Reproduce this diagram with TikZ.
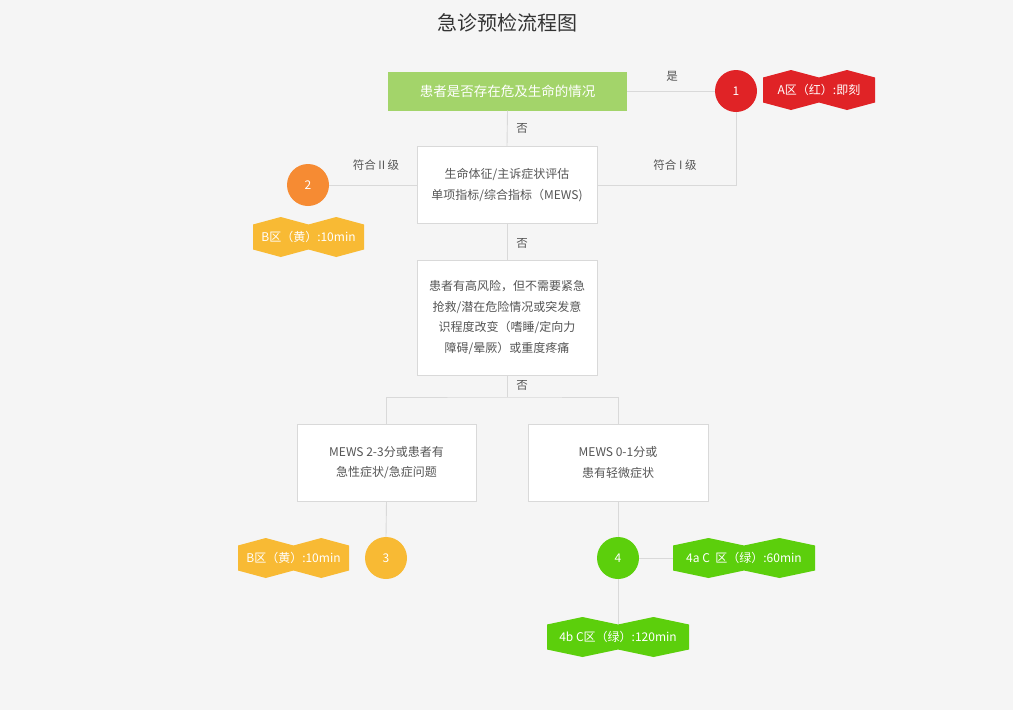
\documentclass[tikz,border=0pt]{standalone}
\usepackage{fontspec}
\setmainfont{Noto Sans CJK SC}
\usetikzlibrary{calc}
\definecolor{bgc}{HTML}{F5F5F5}
\definecolor{linec}{HTML}{D9D9D9}
\definecolor{txtc}{HTML}{555555}
\definecolor{titlec}{HTML}{333333}
\definecolor{qgreen}{HTML}{A3D46A}
\definecolor{cred}{HTML}{E02326}
\definecolor{corange}{HTML}{F68B33}
\definecolor{cyellow}{HTML}{F8BA34}
\definecolor{cgreen}{HTML}{5CCF0C}
\tikzset{
  box/.style={draw=linec, line width=0.8pt, fill=white, align=center, text=txtc, inner sep=0pt,
    font=\fontsize{12}{20.8}\selectfont},
  qbox/.style={fill=qgreen, text=white, inner sep=0pt, minimum width=239pt, minimum height=39pt,
    font=\fontsize{13.5}{16}\selectfont},
  circ/.style={circle, inner sep=0pt, minimum size=42pt, text=white, font=\fontsize{12}{14}\selectfont},
  bantext/.style={inner sep=0pt, minimum height=25pt, text=white, font=\fontsize{12}{14}\selectfont},
  lbl/.style={text=txtc, font=\fontsize{11.5}{14}\selectfont, inner sep=0pt},
  conn/.style={draw=linec, line width=0.9pt},
}
\newcommand\banner[6]{%
  \fill[#5] ({#2-#4},{#3-12.5}) -- ({#2-#4/2},{#3-20}) -- (#2,{#3-12.5}) -- ({#2+#4/2},{#3-20}) -- ({#2+#4},{#3-12.5})
    -- ({#2+#4},{#3+12.5}) -- ({#2+#4/2},{#3+20}) -- (#2,{#3+12.5}) -- ({#2-#4/2},{#3+20}) -- ({#2-#4},{#3+12.5}) -- cycle;
  \node[bantext, minimum width={(2*#4)*1pt}] (#1) at (#2,#3) {#6};}
\begin{document}
\begin{tikzpicture}[x=1pt,y=-1pt]
\useasboundingbox (0,0) rectangle (1013,710);
\fill[bgc] (0,0) rectangle (1013,710);

\node[text=titlec, font=\fontsize{20}{24}\selectfont] (title) at (507,23) {急诊预检流程图};

% boxes
\node[qbox] (q1) at (507.5,91) {患者是否存在危及生命的情况};
\node[box, minimum width=180pt, minimum height=77pt] (b2) at (507,185) {生命体征/主诉症状评估\\单项指标/综合指标（MEWS)};
\node[box, minimum width=180pt, minimum height=115pt] (b3) at (507,317.5) {患者有高风险，但不需要紧急\\抢救/潜在危险情况或突发意\\识程度改变（嗜睡/定向力\\障碍/晕厥）或重度疼痛};
\node[box, minimum width=179pt, minimum height=77pt] (b4) at (386.5,462.5) {MEWS 2-3分或患者有\\急性症状/急症问题};
\node[box, minimum width=180pt, minimum height=77pt] (b5) at (618,462.5) {MEWS 0-1分或\\患有轻微症状};

% circles
\node[circ, fill=cred] (c1) at (736,91) {1};
\node[circ, fill=corange] (c2) at (308,185) {2};
\node[circ, fill=cyellow] (c3) at (386,558) {3};
\node[circ, fill=cgreen] (c4) at (618,558) {4};

% banners
\banner{bA}{819}{90}{56}{cred}{A区（红）:即刻}
\banner{bB1}{308.5}{237}{55.5}{cyellow}{B区（黄）:10min}
\banner{bB2}{293.5}{558}{55.5}{cyellow}{B区（黄）:10min}
\banner{b4a}{744}{558}{71}{cgreen}{4a C\ \ 区（绿）:60min}
\banner{b4b}{618}{637}{71}{cgreen}{4b C区（绿）:120min}

% connectors
\coordinate (split) at (507,397);
\path[conn] (q1.east) -- (c1.west);
\path[conn] (q1.south) -- (b2.north);
\path[conn] (b2.east) -| (c1.south);
\path[conn] (b2.west) -- (c2.east);
\path[conn] (b2.south) -- (b3.north);
\path[conn] (b3.south) -- (split);
\path[conn] (b4.north) |- (split) -| (b5.north);
\path[conn] (b4.south) -- (c3.north);
\path[conn] (b5.south) -- (c4.north);
\path[conn] (c4.east) -- (b4a.west);
\path[conn] (c4.south) -- (b4b.north);

% labels
\node[lbl] (l1) at (672,76) {是};
\node[lbl] (l2) at (522,128) {否};
\node[lbl] (l3) at (522,243) {否};
\node[lbl] (l4) at (522,385) {否};
\node[lbl] (l5) at (675,165) {符合 I 级};
\node[lbl] (l6) at (376,165) {符合 II 级};
\end{tikzpicture}
\end{document}
